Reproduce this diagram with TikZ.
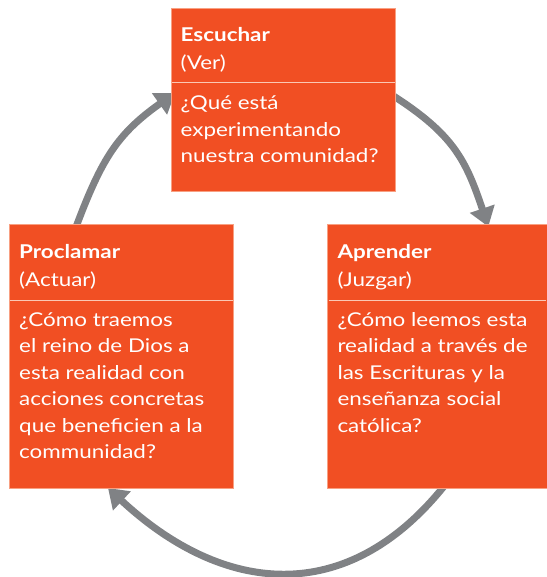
\documentclass[tikz,border=0pt]{standalone}
\usepackage{fontspec}
\setmainfont{Lato}[FakeStretch=1.18]
\usetikzlibrary{arrows.meta}
\definecolor{boxorange}{RGB}{241,79,35}
\definecolor{boxedge}{RGB}{248,160,130}
\definecolor{divline}{RGB}{250,200,180}
\definecolor{arrowgray}{RGB}{128,130,133}
\tikzset{
  stepbox/.style={fill=boxorange, draw=boxedge, line width=0.8pt},
  divider/.style={draw=divline, line width=1pt},
  cyclearrow/.style={draw=arrowgray, line width=7pt, -{Triangle[width=25pt,length=19pt]}},
  boxtext/.style={anchor=base west, inner sep=0pt, text=white},
}
\newcommand{\titletext}[2]{\parbox[t]{210pt}{\fontsize{19}{28}\selectfont\raggedright\textbf{#1}\\#2}}
\newcommand{\bodytext}[1]{\parbox[t]{215pt}{\fontsize{19}{26.5}\selectfont\raggedright #1}}
\begin{document}
\begin{tikzpicture}[x=1pt,y=-1pt]
\useasboundingbox (0,0) rectangle (546,577);
% arrow end points
\coordinate (a1s) at (76,227);
\coordinate (a1e) at (175,93);
\coordinate (a2s) at (392,95);
\coordinate (a2e) at (488.3,226.7);
\coordinate (a3s) at (445,485);
\coordinate (a3e) at (108,488);
\draw[cyclearrow] (a1s) .. controls (101.9,158.2) and (117.6,133.6) .. (a1e);
\draw[cyclearrow] (a2s) .. controls (453.8,134.5) and (465.9,160.2) .. (a2e);
\draw[cyclearrow] (a3s) .. controls (346,609) and (222,594) .. (a3e);
% boxes
\path[stepbox] (171,8.3) rectangle (395.5,191.5);
\path[stepbox] (9,224.5) rectangle (233.5,488.5);
\path[stepbox] (327.5,224.5) rectangle (547,488);
\draw[divider] (172,82.7) -- (394.5,82.7);
\draw[divider] (10,300) -- (232.5,300);
\draw[divider] (328.5,300) -- (546,300);
% texts
\node[boxtext] (t1) at (180.5,41.7) {\titletext{Escuchar}{(Ver)}};
\node[boxtext] (b1) at (180.5,110) {\bodytext{¿Qué está\\experimentando\\nuestra comunidad?}};
\node[boxtext] (t2) at (19,258.3) {\titletext{Proclamar}{(Actuar)}};
\node[boxtext] (b2) at (19,326) {\bodytext{¿Cómo traemos\\el reino de Dios a\\esta realidad con\\acciones concretas\\que beneficien a la\\communidad?}};
\node[boxtext] (t3) at (337.3,258.3) {\titletext{Aprender}{(Juzgar)}};
\node[boxtext] (b3) at (337.3,326) {\bodytext{¿Cómo leemos esta\\realidad a través de\\las Escrituras y la\\enseñanza social\\católica?}};
\end{tikzpicture}
\end{document}
